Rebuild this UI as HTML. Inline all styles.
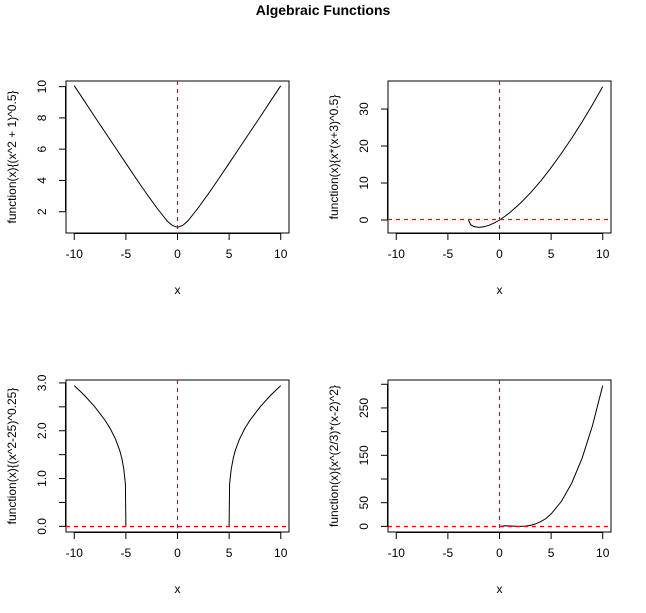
<!DOCTYPE html>
<html><head><meta charset="utf-8"><style>
body{margin:0;background:#fff}
svg{display:block;font-family:"Liberation Sans",Arial,sans-serif}
</style></head><body>
<svg id="c" width="646" height="613">
<text x="323" y="15" text-anchor="middle" font-size="14" font-weight="bold">Algebraic Functions</text>
</svg>
<script>
// panel 1: sqrt(x^2+1)
const p1X=[-10,-9,-8,-7,-6,-5,-4,-3,-2,-1,-0.5,0,0.5,1,2,3,4,5,6,7,8,9,10];
const p1Y=[10.05,9.06,8.06,7.07,6.08,5.10,4.12,3.16,2.24,1.41,1.12,1,1.12,1.41,2.24,3.16,4.12,5.10,6.08,7.07,8.06,9.06,10.05];
// panel 2: x*(x+3)^0.5
const p2X=[-3,-2.8,-2.5,-2,-1.5,-1,-0.5,0,0.5,1,2,3,4,5,6,7,8,9,10];
const p2Y=[0,-1.25,-1.77,-2,-1.84,-1.41,-0.79,0,0.94,2,4.47,7.35,10.58,14.14,18,22.14,26.53,31.18,36.06];
// panel 3: (x^2-25)^0.25 (two branches)
const p3XL=[-10,-9,-8,-7,-6.5,-6,-5.6,-5.4,-5.2,-5.05,-5];
const p3YL=[2.943,2.736,2.499,2.213,2.038,1.821,1.588,1.428,1.195,0.89,0];
const p3XR=[5,5.05,5.2,5.4,5.6,6,6.5,7,8,9,10];
const p3YR=[0,0.89,1.195,1.428,1.588,1.821,2.038,2.213,2.499,2.736,2.943];
// panel 4: x^(2/3)*(x-2)^2
const p4X=[0,0.5,1,1.5,2,2.5,3,3.5,4,4.5,5,6,7,8,9,10];
const p4Y=[0,1.42,1,0.33,0,0.46,2.08,5.2,10.08,16.7,26.3,52.8,91.5,144,212,297.1];
const xTicks=[-10,-5,0,5,10];

const S="http://www.w3.org/2000/svg",svg=document.getElementById('c');
function el(t,a,p){const e=document.createElementNS(S,t);for(const k in a)e.setAttribute(k,a[k]);(p||svg).appendChild(e);return e;}
function panel(name,L,T,W,H,ymin,ymax,yTicks,yLabels,ylab,series,hline){
  const g=el('g',{});
  
  
  const xr=[-10.8,10.8];
  const sx=v=>L+(v-xr[0])/(xr[1]-xr[0])*W;
  const sy=v=>T+H-(v-ymin)/(ymax-ymin)*H;
  const clip='cl'+name;
  const cp=el('clipPath',{id:clip},g);el('rect',{x:L,y:T,width:W,height:H},cp);
  const b=el('rect',{x:L,y:T,width:W,height:H,fill:'none',stroke:'#000','stroke-width':1},g);
  
  
  el('line',{x1:sx(xTicks[0]),x2:sx(xTicks[xTicks.length-1]),y1:T+H+0.5,y2:T+H+0.5,stroke:'#000'},g);
  xTicks.forEach(v=>{
    el('line',{x1:sx(v),x2:sx(v),y1:T+H,y2:T+H+7,stroke:'#000'},g);
    const t=el('text',{x:sx(v),y:T+H+25,'text-anchor':'middle','font-size':12},g);
    t.textContent=v;
    
    
  });
  const xl=el('text',{x:L+W/2,y:T+H+61,'text-anchor':'middle','font-size':12},g);
  xl.textContent='x';
  
  
  el('line',{x1:L-0.5,x2:L-0.5,y1:sy(yTicks[0]),y2:sy(yTicks[yTicks.length-1]),stroke:'#000'},g);
  yTicks.forEach((v,i)=>{
    el('line',{x1:L-7,x2:L,y1:sy(v),y2:sy(v),stroke:'#000'},g);
    if(yLabels[i]!==''){
      const t=el('text',{x:L-20,y:sy(v),'text-anchor':'middle','font-size':12,transform:`rotate(-90 ${L-20} ${sy(v)})`},g);
      t.textContent=yLabels[i];
      
      
    }
  });
  const yl=el('text',{x:L-50,y:T+H/2,'text-anchor':'middle','font-size':12,transform:`rotate(-90 ${L-50} ${T+H/2})`},g);
  yl.textContent=ylab;
  
  
  const cg=el('g',{'clip-path':`url(#${clip})`},g);
  series.forEach(([xs,ys])=>{
    const d=xs.map((x,i)=>(i?'L':'M')+sx(x).toFixed(1)+','+sy(ys[i]).toFixed(1)).join('');
    const p=el('path',{d:d,fill:'none',stroke:'#000','stroke-width':1},cg);
    
    
  });
  const vx=Math.floor(sx(0))+0.5;
  const vl=el('line',{x1:vx,x2:vx,y1:T,y2:T+H,stroke:'#ff0000','stroke-width':1.2,'stroke-dasharray':'4,4'},g);
  
  
  if(hline){
    const hy=Math.floor(sy(0))+0.5;
    const hl=el('line',{x1:L,x2:L+W,y1:hy,y2:hy,stroke:'#ff0000','stroke-width':1.2,'stroke-dasharray':'4,4'},g);
    
    
  }
}
panel('panel-sqrt',66,81,223,152,0.64,10.36,[2,4,6,8,10],['2','4','6','8','10'],'function(x){(x^2 + 1)^0.5}',[[p1X,p1Y]],false);
panel('panel-xsqrt',388,81,223,152,-3.52,37.58,[0,10,20,30],['0','10','20','30'],'function(x){x*(x+3)^0.5}',[[p2X,p2Y]],true);
panel('panel-quartic-root',66,380,223,152,-0.118,3.061,[0,0.5,1,1.5,2,2.5,3],['0.0','','1.0','','2.0','','3.0'],'function(x){(x^2-25)^0.25}',[[p3XL,p3YL],[p3XR,p3YR]],true);
panel('panel-power',388,380,223,152,-11.9,309,[0,50,100,150,200,250,300],['0','50','','150','','250',''],'function(x){x^(2/3)*(x-2)^2}',[[p4X,p4Y]],true);
</script>
</body></html>
